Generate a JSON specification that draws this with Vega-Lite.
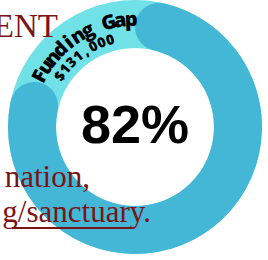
{
  "$schema": "https://vega.github.io/schema/vega-lite/v6.json",
  "width": 254,
  "height": 254,
  "autosize": {"type": "none"},
  "padding": {"left": 8, "top": 0, "right": 6, "bottom": 6},
  "background": "white",
  "config": {"view": {"stroke": null}},
  "resolve": {"scale": {"theta": "independent", "angle": "independent"}},
  "layer": [
    {
      "data": {"values": [{"part": "total", "v": 100}]},
      "mark": {"type": "arc", "innerRadius": 79, "outerRadius": 127, "color": "#6fe1e7"},
      "encoding": {"theta": {"field": "v", "type": "quantitative", "scale": {"domain": [0, 100]}}}
    },
    {
      "data": {"values": [{"part": "funded", "v": 82}]},
      "mark": {"type": "arc", "innerRadius": 79, "outerRadius": 127, "cornerRadius": 24, "color": "#43b7d5"},
      "encoding": {"theta": {"field": "v", "type": "quantitative", "scale": {"domain": [0, 100]}}}
    },
    {
      "data": {"values": [{"t": "ENT"}]},
      "mark": {"type": "text", "align": "right", "baseline": "alphabetic", "font": "Liberation Serif", "fontSize": 33, "color": "#7b1416"},
      "encoding": {"text": {"field": "t"}, "x": {"value": 50}, "y": {"value": 37}}
    },
    {
      "data": {"values": [{"t": "nation,"}]},
      "mark": {"type": "text", "align": "right", "baseline": "alphabetic", "font": "Liberation Serif", "fontSize": 31, "color": "#7b1416"},
      "encoding": {"text": {"field": "t"}, "x": {"value": 82}, "y": {"value": 187}}
    },
    {
      "data": {"values": [{"t": "g/sanctuary."}]},
      "mark": {"type": "text", "align": "right", "baseline": "alphabetic", "font": "Liberation Serif", "fontSize": 31, "color": "#7b1416"},
      "encoding": {"text": {"field": "t"}, "x": {"value": 143}, "y": {"value": 222}}
    },
    {
      "data": {"values": [{"t": "underline"}]},
      "mark": {"type": "rule", "color": "#7b1416", "strokeWidth": 2},
      "encoding": {"x": {"value": 4}, "x2": {"value": 125}, "y": {"value": 228}}
    },
    {
      "data": {"values": [{"label": "82%"}]},
      "mark": {"type": "text", "align": "center", "baseline": "middle", "font": "Liberation Sans", "fontWeight": "bold", "fontSize": 54, "color": "#000000"},
      "encoding": {"text": {"field": "label"}}
    },
    {
      "data": {"values": [
        {"ch": "F", "k": 0}, {"ch": "u", "k": 1}, {"ch": "n", "k": 2}, {"ch": "d", "k": 3},
        {"ch": "i", "k": 4}, {"ch": "n", "k": 5}, {"ch": "g", "k": 6}, {"ch": " ", "k": 7},
        {"ch": "G", "k": 8}, {"ch": "a", "k": 9}, {"ch": "p", "k": 10}
      ]},
      "mark": {"type": "text", "radius": 107, "align": "center", "baseline": "middle", "font": "Open Sans", "fontWeight": 800, "fontSize": 20, "color": "#000000"},
      "encoding": {
        "text": {"field": "ch"},
        "theta": {"field": "k", "type": "quantitative", "stack": null, "scale": {"domain": [0, 10], "range": [-1.082, -0.035]}},
        "angle": {"field": "k", "type": "quantitative", "legend": null, "scale": {"domain": [0, 10], "range": [-62, -2]}}
      }
    },
    {
      "data": {"values": [
        {"ch": "$", "k": 0}, {"ch": "1", "k": 1}, {"ch": "3", "k": 2}, {"ch": "1", "k": 3},
        {"ch": ",", "k": 4}, {"ch": "0", "k": 5}, {"ch": "0", "k": 6}, {"ch": "0", "k": 7}
      ]},
      "mark": {"type": "text", "radius": 90, "align": "center", "baseline": "middle", "font": "Open Sans", "fontWeight": 800, "fontSize": 14, "color": "#000000"},
      "encoding": {
        "text": {"field": "ch"},
        "theta": {"field": "k", "type": "quantitative", "stack": null, "scale": {"domain": [0, 7], "range": [-0.977, -0.279]}},
        "angle": {"field": "k", "type": "quantitative", "legend": null, "scale": {"domain": [0, 7], "range": [-56, -16]}}
      }
    }
  ]
}
